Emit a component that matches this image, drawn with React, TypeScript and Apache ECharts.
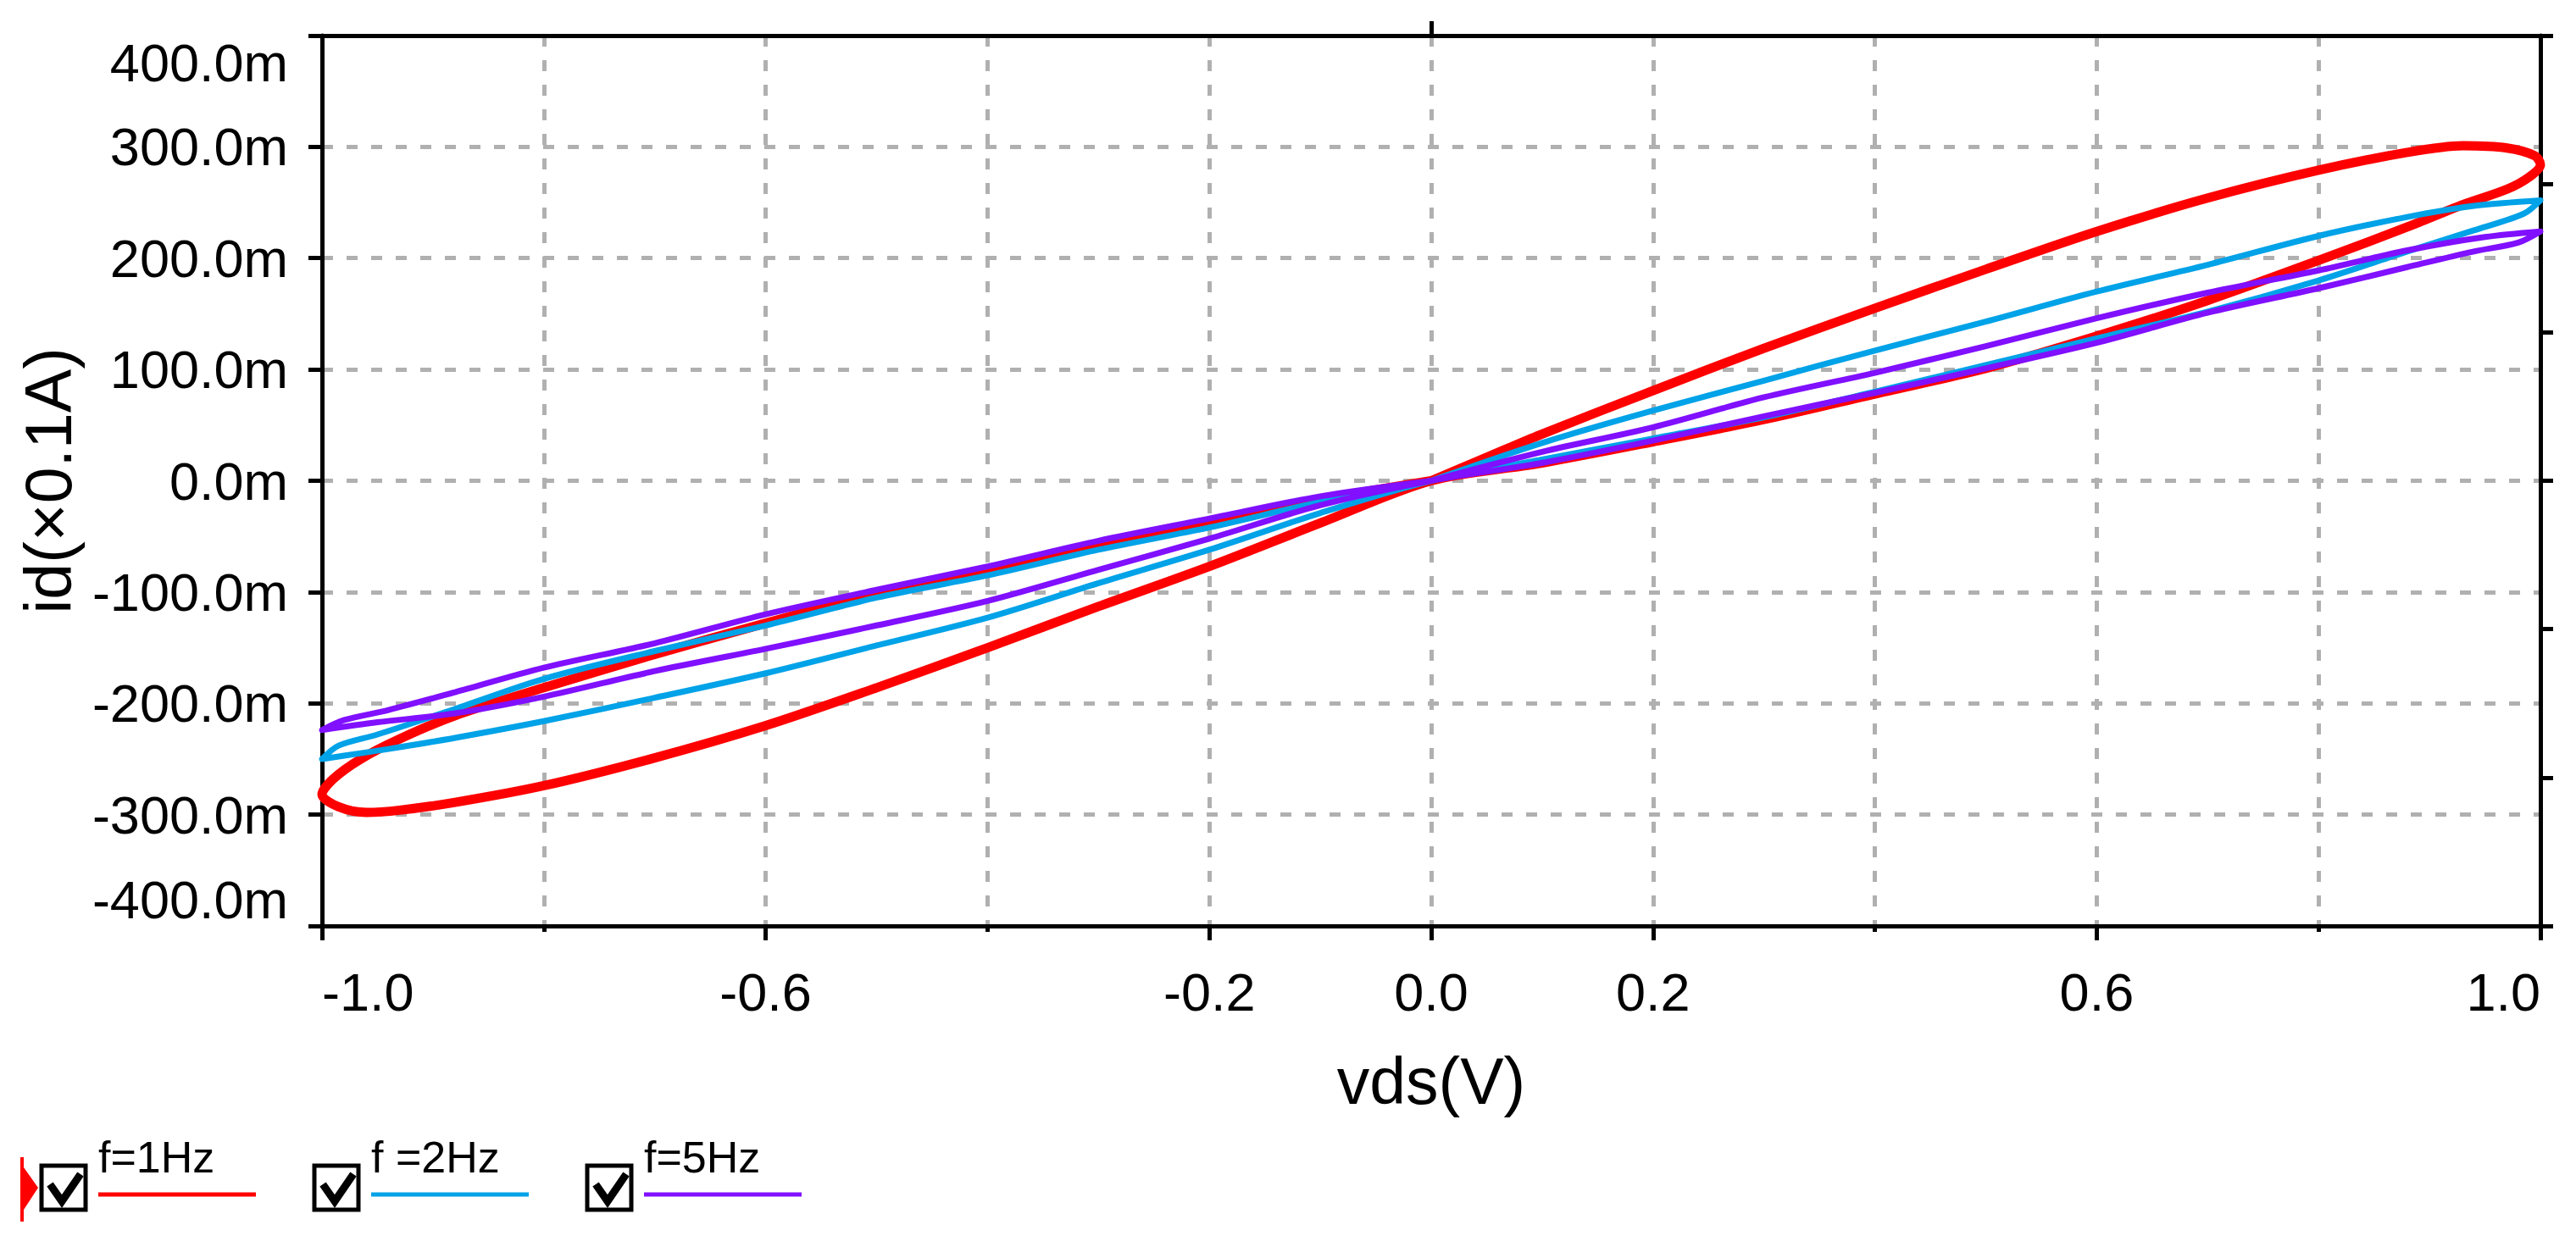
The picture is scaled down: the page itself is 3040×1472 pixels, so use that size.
import React, { useEffect, useRef } from "react";
import * as echarts from "echarts";

// ---- data ----
const xLabelValues = [-1.0, -0.6, -0.2, 0.0, 0.2, 0.6, 1.0];
const xMinorTickValues = [-0.8, -0.4, 0.4, 0.8];
const topTickValues = [0];
const seriesNames = ["f=1Hz", "f =2Hz", "f=5Hz"];
const seriesColors = ["#ff0000", "#00a2e8", "#8010ff"];

// f = 1 Hz loop: [vds (V), id (x0.1 A)]
const loop1Hz: number[][] = [
  [0, 0], [0.05, 0.021], [0.1, 0.042], [0.2, 0.081], [0.3, 0.119], [0.4, 0.155],
  [0.5, 0.19], [0.6, 0.224], [0.7, 0.254], [0.8, 0.279], [0.88, 0.295], [0.93, 0.301],
  [0.97, 0.299], [0.995, 0.292], [1.0, 0.284],
  [0.99, 0.273], [0.97, 0.262], [0.93, 0.248], [0.88, 0.228], [0.8, 0.198], [0.7, 0.162],
  [0.6, 0.13], [0.5, 0.101], [0.4, 0.078], [0.3, 0.055], [0.2, 0.035], [0.1, 0.016], [0, 0],
  [-0.1, -0.038], [-0.2, -0.077], [-0.3, -0.113], [-0.4, -0.15], [-0.5, -0.186], [-0.6, -0.22],
  [-0.7, -0.249], [-0.8, -0.274], [-0.88, -0.289], [-0.93, -0.296], [-0.96, -0.298],
  [-0.985, -0.293], [-1.0, -0.282],
  [-0.99, -0.268], [-0.965, -0.25], [-0.93, -0.232], [-0.88, -0.211], [-0.8, -0.186],
  [-0.7, -0.156], [-0.6, -0.128], [-0.5, -0.101], [-0.4, -0.08], [-0.3, -0.057],
  [-0.2, -0.037], [-0.1, -0.017], [0, 0],
];

// f = 2 Hz loop
const loop2Hz: number[][] = [
  [0, 0], [0.1, 0.034], [0.2, 0.063], [0.3, 0.09], [0.4, 0.117], [0.5, 0.143], [0.6, 0.17],
  [0.7, 0.194], [0.8, 0.22], [0.88, 0.237], [0.94, 0.247], [1.0, 0.252],
  [0.985, 0.24], [0.94, 0.225], [0.88, 0.206], [0.8, 0.18], [0.7, 0.152], [0.6, 0.128],
  [0.5, 0.104], [0.4, 0.08], [0.3, 0.057], [0.2, 0.038], [0.1, 0.019], [0, 0],
  [-0.1, -0.029], [-0.2, -0.062], [-0.3, -0.092], [-0.4, -0.123], [-0.5, -0.148],
  [-0.6, -0.173], [-0.7, -0.195], [-0.8, -0.216], [-0.88, -0.231], [-0.94, -0.241],
  [-0.98, -0.247], [-1.0, -0.25],
  [-0.985, -0.238], [-0.95, -0.228], [-0.88, -0.205], [-0.8, -0.178], [-0.7, -0.153],
  [-0.6, -0.13], [-0.5, -0.105], [-0.4, -0.085], [-0.3, -0.062], [-0.2, -0.042],
  [-0.1, -0.019], [0, 0],
];

// f = 5 Hz loop
const loop5Hz: number[][] = [
  [0, 0], [0.1, 0.026], [0.2, 0.048], [0.3, 0.075], [0.4, 0.097], [0.5, 0.121], [0.6, 0.146],
  [0.7, 0.169], [0.8, 0.189], [0.88, 0.207], [0.95, 0.219], [1.0, 0.224],
  [0.98, 0.214], [0.94, 0.206], [0.88, 0.192], [0.8, 0.173], [0.7, 0.151], [0.6, 0.124],
  [0.5, 0.101], [0.4, 0.079], [0.3, 0.058], [0.2, 0.036], [0.1, 0.016], [0, 0],
  [-0.1, -0.022], [-0.2, -0.052], [-0.3, -0.08], [-0.4, -0.108], [-0.5, -0.13],
  [-0.6, -0.151], [-0.7, -0.171], [-0.8, -0.194], [-0.88, -0.209], [-0.95, -0.217],
  [-1.0, -0.224],
  [-0.98, -0.215], [-0.94, -0.206], [-0.88, -0.19], [-0.8, -0.168], [-0.7, -0.146],
  [-0.6, -0.12], [-0.5, -0.098], [-0.4, -0.077], [-0.3, -0.054], [-0.2, -0.034],
  [-0.1, -0.014], [0, 0],
];

const loops = [loop1Hz, loop2Hz, loop5Hz];
const lineWidths = [11, 7, 7];

const FONT = '"Liberation Sans", Arial, sans-serif';

function buildLegend(): any[] {
  const els: any[] = [];
  // red selection marker at far left
  els.push({
    type: "polygon",
    shape: {
      points: [[24, 1366], [28, 1366], [28, 1378], [45, 1402], [28, 1428], [28, 1442], [24, 1442]],
    },
    style: { fill: "#ff0000" },
  });
  const step = 322;
  seriesNames.forEach((name, i) => {
    const ox = i * step;
    els.push({
      type: "rect",
      shape: { x: 49 + ox, y: 1376, width: 52, height: 52 },
      style: { fill: "#ffffff", stroke: "#000000", lineWidth: 5 },
    });
    els.push({
      type: "polyline",
      shape: { points: [[59 + ox, 1398], [73 + ox, 1418], [95 + ox, 1386]] },
      style: { stroke: "#000000", lineWidth: 9, fill: null },
    });
    els.push({
      type: "text",
      x: 116 + ox,
      y: 1340,
      style: {
        text: name,
        font: `52px ${FONT}`,
        fill: "#000000",
        verticalAlign: "top",
        align: "left",
      },
    });
    els.push({
      type: "line",
      shape: { x1: 116 + ox, y1: 1410, x2: 302 + ox, y2: 1410 },
      style: { stroke: seriesColors[i], lineWidth: 5 },
    });
  });
  return els;
}

export default function App() {
  const ref = useRef<HTMLDivElement>(null);
  useEffect(() => {
    if (!ref.current) return;
    const chart = echarts.init(ref.current, null, { renderer: "svg" });
    const black = "#000000";
    const gridLine = {
      show: true,
      lineStyle: { color: "#b0b0b0", width: 5, type: [13, 16] as any },
    };
    const option: any = {
      animation: false,
      backgroundColor: "#ffffff",
      grid: { left: 380, right: 42, top: 42, bottom: 379, containLabel: false },
      xAxis: [
        {
          type: "value",
          position: "bottom",
          min: -1,
          max: 1,
          interval: 0.2,
          name: "vds(V)",
          nameLocation: "middle",
          nameGap: 144,
          nameTextStyle: { fontSize: 77, fontFamily: FONT, color: black },
          axisLine: { show: true, onZero: false, lineStyle: { color: black, width: 5 } },
          axisTick: { show: true, length: 7, lineStyle: { color: black, width: 5 } },
          axisLabel: {
            show: true,
            customValues: xLabelValues,
            formatter: (v: number) => v.toFixed(1),
            fontSize: 63,
            fontFamily: FONT,
            color: black,
            margin: 46,
            alignMinLabel: "left",
            alignMaxLabel: "right",
          },
          splitLine: gridLine,
        },
        {
          type: "value",
          position: "bottom",
          min: -1,
          max: 1,
          axisLine: { show: false, onZero: false },
          axisTick: {
            show: true,
            customValues: xLabelValues,
            length: 17,
            lineStyle: { color: black, width: 5 },
          },
          axisLabel: { show: false },
          splitLine: { show: false },
        },
        {
          type: "value",
          position: "top",
          min: -1,
          max: 1,
          axisLine: { show: true, onZero: false, lineStyle: { color: black, width: 5 } },
          axisTick: {
            show: true,
            customValues: topTickValues,
            length: 17,
            lineStyle: { color: black, width: 5 },
          },
          axisLabel: { show: false },
          splitLine: { show: false },
        },
        {
          type: "value",
          position: "bottom",
          min: -1,
          max: 1,
          axisLine: { show: false, onZero: false },
          axisTick: {
            show: true,
            customValues: xMinorTickValues,
            length: 7,
            lineStyle: { color: black, width: 5 },
          },
          axisLabel: { show: false },
          splitLine: { show: false },
        },
      ],
      yAxis: [
        {
          type: "value",
          position: "left",
          min: -0.4,
          max: 0.4,
          interval: 0.1,
          name: "id(×0.1A)",
          nameLocation: "middle",
          nameRotate: 90,
          nameGap: 285,
          nameTextStyle: { fontSize: 77, fontFamily: FONT, color: black },
          axisLine: { show: true, onZero: false, lineStyle: { color: black, width: 5 } },
          axisTick: { show: true, length: 16, lineStyle: { color: black, width: 5 } },
          axisLabel: {
            show: true,
            formatter: (v: number) => `${(v * 1000).toFixed(1)}m`,
            fontSize: 63,
            fontFamily: FONT,
            color: black,
            margin: 40,
            verticalAlignMinLabel: "bottom",
            verticalAlignMaxLabel: "top",
          },
          splitLine: gridLine,
        },
        {
          type: "value",
          position: "right",
          min: 0,
          max: 6,
          interval: 1,
          axisLine: { show: true, onZero: false, lineStyle: { color: black, width: 5 } },
          axisTick: { show: true, length: 15, lineStyle: { color: black, width: 5 } },
          axisLabel: { show: false },
          splitLine: { show: false },
        },
      ],
      series: loops.map((d, i) => ({
        name: seriesNames[i],
        type: "line",
        xAxisIndex: 0,
        yAxisIndex: 0,
        data: d,
        showSymbol: false,
        symbol: "none",
        smooth: 0.3,
        clip: false,
        lineStyle: { color: seriesColors[i], width: lineWidths[i], join: "round" },
        z: 2 + i,
      })),
      graphic: buildLegend(),
    };
    chart.setOption(option);
    return () => chart.dispose();
  }, []);
  return (
    <div
      ref={ref}
      style={{ position: "absolute", left: 0, top: 0, width: 3040, height: 1472, background: "#fff" }}
    />
  );
}
